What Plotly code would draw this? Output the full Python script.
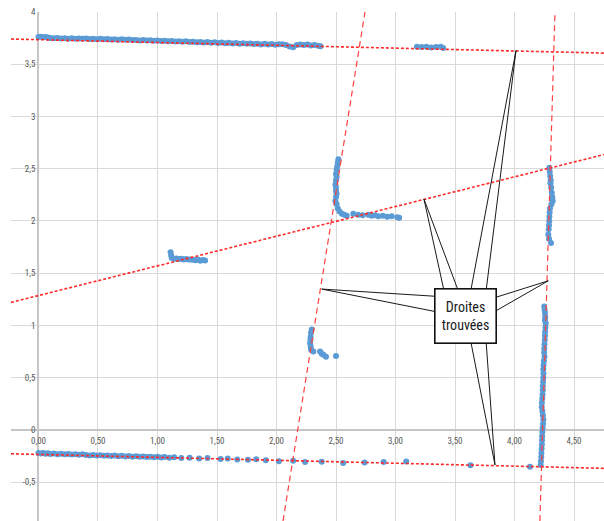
import numpy as np
import plotly.graph_objects as go

# ---------------- data ----------------
top_x = [0.00,0.02,0.04,0.06,0.08,0.10,0.13,0.16,0.19,0.22,0.25,0.28,0.31,0.34,0.37,0.40,0.43,0.46,0.49,0.52,
         0.55,0.58,0.61,0.64,0.67,0.70,0.73,0.76,0.79,0.82,0.85,0.88,0.91,0.94,0.97,1.00,1.03,1.06,1.09,1.12,
         1.15,1.18,1.21,1.24,1.27,1.30,1.33,1.36,1.39,1.42,1.45,1.48,1.51,1.54,1.57,1.60,1.63,1.66,1.69,1.72,
         1.75,1.78,1.81,1.84,1.87,1.90,1.93,1.96,1.99,2.02,2.05,2.08,2.11,2.14,2.17,2.20,2.23,2.26,2.29,2.32,
         2.35,2.37,
         3.18,3.22,3.26,3.30,3.34,3.38,3.40]
top_y = [3.760,3.762,3.758,3.761,3.757,3.752,3.748,3.751,3.746,3.749,3.745,3.748,3.744,3.747,3.743,3.746,3.741,3.744,3.740,3.743,
         3.738,3.742,3.737,3.740,3.735,3.738,3.734,3.737,3.731,3.733,3.728,3.732,3.727,3.730,3.725,3.728,3.722,3.726,3.720,3.723,
         3.717,3.721,3.716,3.719,3.713,3.716,3.710,3.714,3.708,3.712,3.706,3.710,3.704,3.707,3.701,3.705,3.699,3.703,3.697,3.701,
         3.695,3.699,3.693,3.697,3.690,3.695,3.688,3.693,3.686,3.691,3.692,3.685,3.670,3.662,3.685,3.690,3.684,3.688,3.680,3.684,
         3.677,3.672,
         3.667,3.665,3.668,3.660,3.664,3.668,3.655]

bottom_x = [0.00,0.02,0.04,0.06,0.08,0.10,0.13,0.16,0.19,0.22,0.25,0.28,0.31,0.34,0.37,0.40,0.43,0.46,0.49,0.52,
            0.55,0.58,0.61,0.64,0.67,0.70,0.73,0.76,0.79,0.82,0.85,0.88,0.91,0.94,0.97,1.00,1.03,1.06,1.10,1.14,
            1.20,1.27,1.35,1.42,1.53,1.59,1.67,1.76,1.83,1.91,2.02,2.14,2.24,2.38,2.56,2.74,2.90,3.09,3.63,4.13]
bottom_y = [-0.222,-0.226,-0.220,-0.228,-0.224,-0.230,-0.226,-0.232,-0.228,-0.234,-0.230,-0.236,-0.232,-0.238,-0.234,-0.240,-0.244,-0.240,-0.246,-0.242,
            -0.248,-0.244,-0.250,-0.246,-0.252,-0.248,-0.254,-0.250,-0.256,-0.252,-0.258,-0.254,-0.260,-0.256,-0.262,-0.258,-0.264,-0.260,-0.266,-0.262,
            -0.270,-0.266,-0.274,-0.270,-0.278,-0.274,-0.284,-0.286,-0.282,-0.290,-0.300,-0.296,-0.308,-0.306,-0.318,-0.312,-0.307,-0.303,-0.338,-0.352]

left_mid_x = [1.11,1.115,1.12,1.14,1.16,1.18,1.20,1.22,1.24,1.26,1.28,1.30,1.32,1.34,1.36,1.38,1.40]
left_mid_y = [1.70,1.67,1.645,1.638,1.640,1.635,1.638,1.632,1.636,1.630,1.632,1.628,1.624,1.630,1.620,1.626,1.622]

center_x = [2.52,2.515,2.51,2.505,2.50,2.505,2.50,2.495,2.50,2.50,2.505,2.50,2.495,2.505,2.515,2.53,2.55,2.57,2.59,
            2.645,2.687,2.724,2.771,2.80,2.828,2.855,2.893,2.93,2.968,3.015,3.031]
center_y = [2.59,2.56,2.52,2.49,2.45,2.42,2.39,2.35,2.32,2.29,2.26,2.23,2.19,2.16,2.12,2.09,2.07,2.06,2.05,
            2.07,2.06,2.055,2.06,2.05,2.055,2.045,2.05,2.04,2.045,2.035,2.03]

low_center_x = [2.296,2.29,2.287,2.285,2.283,2.287,2.29,2.31,2.366,2.38,2.394,2.416,2.50]
low_center_y = [0.96,0.93,0.89,0.86,0.83,0.80,0.77,0.75,0.75,0.73,0.72,0.70,0.707]

right_up_x = [4.293,4.296,4.300,4.304,4.302,4.308,4.313,4.318,4.321,4.310,4.298,4.295,4.293,4.292,4.290,4.287,4.284,4.290,4.307]
right_up_y = [2.51,2.47,2.43,2.39,2.36,2.32,2.27,2.23,2.19,2.16,2.12,2.08,2.04,2.00,1.96,1.92,1.87,1.83,1.79]

right_low_x = [4.250,4.253,4.256,4.258,4.256,4.262,4.260,4.257,4.256,4.254,4.252,4.250,4.249,4.252,4.247,4.244,4.242,4.243,4.242,4.240,
               4.238,4.238,4.236,4.233,4.230,4.229,4.234,4.238,4.242,4.240,4.237,4.234,4.232,4.231,4.230,4.228,4.226,4.225,4.222,4.220]
right_low_y = [1.18,1.15,1.12,1.08,1.05,1.02,0.98,0.94,0.90,0.86,0.82,0.78,0.74,0.70,0.66,0.62,0.58,0.54,0.50,0.46,
               0.42,0.38,0.34,0.30,0.26,0.22,0.18,0.14,0.10,0.06,0.02,-0.02,-0.06,-0.10,-0.14,-0.18,-0.22,-0.26,-0.30,-0.335]

# found lines: y = a + b*x  (near-horizontal)  and  x = a + b*y  (near-vertical)
h_line_intercepts = [3.735, 1.286, -0.235]
h_line_slopes = [-0.027, 0.284, -0.028]
v_line_intercepts = [2.178, 4.236]
v_line_slopes = [0.1414, 0.026]

x_tick_vals = [0, 0.5, 1, 1.5, 2, 2.5, 3, 3.5, 4, 4.5]
x_tick_labels = ["0,00", "0,50", "1,00", "1,50", "2,00", "2,50", "3,00", "3,50", "4,00", "4,50"]
y_tick_vals = [-0.5, 0, 0.5, 1, 1.5, 2, 2.5, 3, 3.5, 4]
y_tick_labels = ["-0,5", "0", "0,5", "1", "1,5", "2", "2,5", "3", "3,5", "4"]

callout_text = "Droites<br>trouvées"
callout_center = (3.588, 1.092)
callout_tips = [(2.380, 1.348), (3.239, 2.210), (4.013, 3.633), (4.284, 1.427), (3.836, -0.335)]
callout_bases = [((3.36, 1.277), (3.36, 1.127)),
                 ((3.408, 1.33), (3.528, 1.33)),
                 ((3.632, 1.33), (3.761, 1.33)),
                 ((3.82, 1.261), (3.82, 1.124)),
                 ((3.632, 0.85), (3.761, 0.85))]

x_range = [-0.231, 4.752]
y_range = [-0.872, 4.0]

# ---------------- figure ----------------
fig = go.Figure()

px_all = top_x + bottom_x + left_mid_x + center_x + low_center_x + right_up_x + right_low_x
py_all = top_y + bottom_y + left_mid_y + center_y + low_center_y + right_up_y + right_low_y
fig.add_trace(go.Scatter(x=px_all, y=py_all, mode="markers",
                         marker=dict(color="#5b9bd5", size=6, line=dict(width=0)),
                         showlegend=False, hoverinfo="skip"))

xs = np.array(x_range)
for a, b in zip(h_line_intercepts, h_line_slopes):
    fig.add_trace(go.Scatter(x=xs, y=a + b * xs, mode="lines",
                             line=dict(color="#ff2a2a", width=1.6, dash="3px,2px"),
                             showlegend=False, hoverinfo="skip"))
ys = np.array(y_range)
for a, b in zip(v_line_intercepts, v_line_slopes):
    fig.add_trace(go.Scatter(x=a + b * ys, y=ys, mode="lines",
                             line=dict(color="#ff4040", width=1.2, dash="6px,4px"),
                             showlegend=False, hoverinfo="skip"))

shapes = []
for tip, (b1, b2) in zip(callout_tips, callout_bases):
    shapes.append(dict(type="path", xref="x", yref="y",
                       path=f"M {b1[0]},{b1[1]} L {tip[0]},{tip[1]} L {b2[0]},{b2[1]}",
                       line=dict(color="#1a1a1a", width=1), fillcolor="rgba(0,0,0,0)"))

narrow = "Liberation Sans Narrow, Roboto Condensed, DejaVu Sans Condensed, Arial Narrow, sans-serif"
tick_font = dict(family=narrow, size=9, color="#595959")

fig.update_layout(
    width=604, height=521,
    margin=dict(l=11, r=0, t=12, b=0),
    paper_bgcolor="white", plot_bgcolor="white",
    shapes=shapes,
    annotations=[dict(x=callout_center[0], y=callout_center[1], xref="x", yref="y",
                      text=callout_text, showarrow=False, align="center",
                      font=dict(family=narrow, size=14, color="#1a1a1a"),
                      bgcolor="white", bordercolor="#111111", borderwidth=1.6,
                      width=60, height=53, borderpad=0)],
    xaxis=dict(range=x_range, tickvals=x_tick_vals, ticktext=x_tick_labels,
               showgrid=True, gridcolor="#d9d9d9", gridwidth=1,
               zeroline=True, zerolinecolor="#c6c6c6", zerolinewidth=1.5,
               showline=False, ticks="", tickfont=tick_font,
               anchor="free", position=(0 - y_range[0]) / (y_range[1] - y_range[0]),
               ticklabelstandoff=4, fixedrange=True),
    yaxis=dict(range=y_range, tickvals=y_tick_vals, ticktext=y_tick_labels,
               showgrid=True, gridcolor="#d9d9d9", gridwidth=1,
               zeroline=True, zerolinecolor="#c6c6c6", zerolinewidth=1.5,
               showline=False, ticks="", tickfont=tick_font,
               anchor="free", position=(0 - x_range[0]) / (x_range[1] - x_range[0]),
               ticklabelstandoff=3, fixedrange=True),
)

fig.write_html("out.html", config={"displayModeBar": False},
               post_script="document.body.style.margin='0';document.body.style.padding='0';")
